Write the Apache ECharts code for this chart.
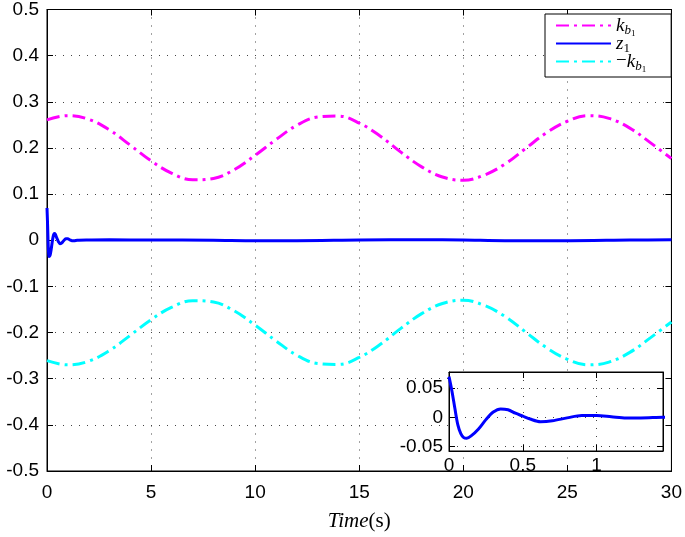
<!DOCTYPE html>
<html>
<head>
<meta charset="utf-8">
<script src="https://cdn.jsdelivr.net/npm/echarts@6/dist/echarts.min.js"></script>
<style>html,body{margin:0;padding:0;background:#fff}#c{width:685px;height:537px}</style>
</head>
<body>
<div id="c"></div>
<script>
// ---- data ----
const sampleTimes = [0,1,2,3,4,5,6,7,8,9,10,11,12,13,14,15,16,17,18,19,20,21,22,23,24,25,26,27,28,29,30];
const kb1 = [0.261,0.270,0.262,0.239,0.206,0.172,0.145,0.131,0.134,0.153,0.184,0.218,0.249,0.267,0.269,0.254,0.226,0.191,0.159,0.137,0.130,0.141,0.165,0.199,0.233,0.258,0.270,0.264,0.243,0.211,0.177];
const negKb1 = [-0.261,-0.270,-0.262,-0.239,-0.206,-0.172,-0.145,-0.131,-0.134,-0.153,-0.184,-0.218,-0.249,-0.267,-0.269,-0.254,-0.226,-0.191,-0.159,-0.137,-0.130,-0.141,-0.165,-0.199,-0.233,-0.258,-0.270,-0.264,-0.243,-0.211,-0.177];
const zTime = [0,0.02,0.04,0.06,0.08,0.10,0.12,0.15,0.2,0.25,0.3,0.35,0.4,0.45,0.5,0.55,0.62,0.7,0.8,0.9,1.0,1.1,1.2,1.3,1.45,2,3,5,8,10,12,15,18,20,22,25,28,30];
const z1 = [0.070,0.045,0.015,-0.013,-0.028,-0.035,-0.036,-0.032,-0.020,-0.004,0.009,0.0145,0.013,0.007,0.002,-0.003,-0.0075,-0.006,-0.001,0.003,0.003,0.001,-0.001,-0.001,0,0.0005,0.001,0.0005,0,-0.001,-0.001,0.0005,0.001,0.0005,-0.001,-0.001,0.0005,0.001];
const yTicksInset = [-0.05,0,0.05];
const xTicksInset = [0,0.5,1];

const pairs = (xs, ys) => xs.map((x, i) => [x, ys[i]]);

const dotted = {show:true, lineStyle:{color:'#444', width:1, type:[1,7]}};
const labelFont = {color:'#000', fontSize:19, fontFamily:'Liberation Sans, Arial, sans-serif'};
const tick = {show:true, inside:true, length:6, lineStyle:{color:'#000', width:1}};
const line = {show:true, onZero:false, lineStyle:{color:'#000', width:1}};
const dashDot = [13,5,3,5];
const serif = 'Liberation Serif, serif';

const chart = echarts.init(document.getElementById('c'), null, {renderer:'canvas'});
chart.setOption({
  animation:false,
  backgroundColor:'#fff',
  grid:[
    {left:47, right:12, top:6, bottom:63, show:true, borderColor:'#000', borderWidth:1},
    {left:449, top:372, width:214, height:79, show:true, backgroundColor:'#fff', borderColor:'#000', borderWidth:1, z:10}
  ],
  xAxis:[
    {type:'value', gridIndex:0, min:0, max:30, interval:5, axisLine:line, axisTick:tick,
     splitLine:dotted, axisLabel:Object.assign({margin:12}, labelFont),
     name:'{it|Time}{n|(s)}', nameLocation:'middle', nameGap:40,
     nameTextStyle:{rich:{
       it:{fontFamily:serif, fontStyle:'italic', fontSize:21, color:'#000'},
       n:{fontFamily:serif, fontSize:21, color:'#000'}}}},
    {type:'value', gridIndex:0, position:'top', min:0, max:30, interval:5, axisLine:line, axisTick:tick,
     splitLine:{show:false}, axisLabel:{show:false}},
    {type:'value', gridIndex:1, min:0, max:1.45, axisLine:line, z:11,
     axisTick:Object.assign({customValues:xTicksInset}, tick),
     splitLine:dotted,
     axisLabel:Object.assign({margin:5, customValues:xTicksInset}, labelFont)},
    {type:'value', gridIndex:1, position:'top', min:0, max:1.45, axisLine:line, z:11,
     axisTick:Object.assign({customValues:xTicksInset}, tick), splitLine:{show:false}, axisLabel:{show:false}}
  ],
  yAxis:[
    {type:'value', gridIndex:0, min:-0.5, max:0.5, interval:0.1, axisLine:line, axisTick:tick,
     splitLine:dotted, axisLabel:Object.assign({margin:8, formatter:v => {const r=Math.round(v*10)/10; return r===0?'0':String(r);}}, labelFont)},
    {type:'value', gridIndex:0, position:'right', min:-0.5, max:0.5, interval:0.1, axisLine:line, axisTick:tick,
     splitLine:{show:false}, axisLabel:{show:false}},
    {type:'value', gridIndex:1, min:-0.058, max:0.078, axisLine:line, z:11,
     axisTick:Object.assign({customValues:yTicksInset}, tick),
     splitLine:dotted,
     axisLabel:Object.assign({margin:6, customValues:yTicksInset, formatter:v => (Math.abs(v)<1e-9?'0':String(Math.round(v*100)/100))}, labelFont)},
    {type:'value', gridIndex:1, position:'right', min:-0.058, max:0.078, axisLine:line, z:11,
     axisTick:Object.assign({customValues:yTicksInset}, tick), splitLine:{show:false}, axisLabel:{show:false}}
  ],
  legend:{
    orient:'vertical', left:545, top:14,
    padding:[-1,25,3,10], itemGap:-6, itemWidth:55, itemHeight:14,
    backgroundColor:'#fff', borderColor:'#000', borderWidth:1,
    itemStyle:{opacity:0},
    data:['kb1','z1','-kb1'],
    formatter: name => ({
      'kb1':'{it|k}{sub|b}{ss|1}',
      'z1':'{it|z}{subn|1}',
      '-kb1':'{n|−}{it|k}{sub|b}{ss|1}'
    })[name],
    textStyle:{color:'#000', rich:{
      it:{fontFamily:serif, fontStyle:'italic', fontSize:19, lineHeight:23, verticalAlign:'middle', color:'#000'},
      n:{fontFamily:serif, fontSize:19, lineHeight:23, verticalAlign:'middle', color:'#000'},
      sub:{fontFamily:serif, fontStyle:'italic', fontSize:13, lineHeight:6, padding:[10,0,0,0], verticalAlign:'middle', color:'#000'},
      subn:{fontFamily:serif, fontSize:13, lineHeight:6, padding:[10,0,0,0], verticalAlign:'middle', color:'#000'},
      ss:{fontFamily:serif, fontSize:9, lineHeight:1, padding:[16,0,0,0], verticalAlign:'middle', color:'#000'}
    }}
  },
  series:[
    {name:'kb1', type:'line', xAxisIndex:0, yAxisIndex:0, symbol:'none', smooth:0.4,
     data:pairs(sampleTimes, kb1), lineStyle:{color:'#ff00ff', width:3, type:dashDot}, itemStyle:{color:'#ff00ff'}},
    {name:'z1', type:'line', xAxisIndex:0, yAxisIndex:0, symbol:'none', smooth:0.3,
     data:pairs(zTime, z1), lineStyle:{color:'#0000ff', width:3}, itemStyle:{color:'#0000ff'}},
    {name:'-kb1', type:'line', xAxisIndex:0, yAxisIndex:0, symbol:'none', smooth:0.4,
     data:pairs(sampleTimes, negKb1), lineStyle:{color:'#00ffff', width:3, type:dashDot}, itemStyle:{color:'#00ffff'}},
    {name:'z1inset', type:'line', xAxisIndex:2, yAxisIndex:2, symbol:'none', smooth:0.3, clip:true, z:12,
     data:pairs(zTime, z1), lineStyle:{color:'#0000ff', width:3}, itemStyle:{color:'#0000ff'}}
  ]
});
</script>
</body>
</html>
